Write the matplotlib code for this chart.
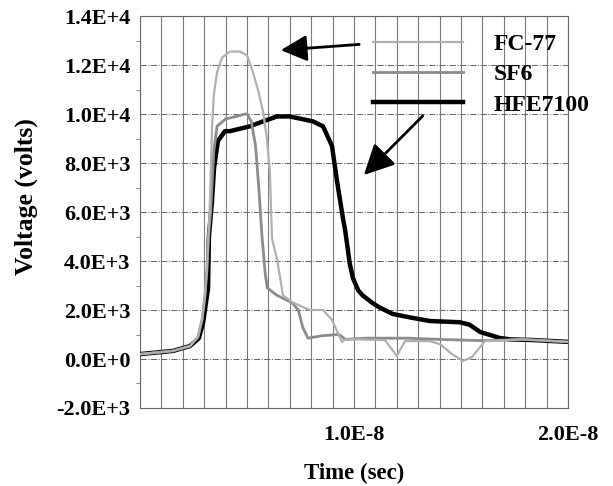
import numpy as np
import matplotlib
matplotlib.use("Agg")
import matplotlib.pyplot as plt
from matplotlib.ticker import MultipleLocator, FixedLocator, FixedFormatter

plt.rcParams['font.family'] = ['Liberation Serif', 'DejaVu Serif']
plt.rcParams['font.weight'] = 'bold'
plt.rcParams['axes.labelweight'] = 'bold'

# time in ns, voltage in volts
fc77_t = [0, 1.54, 2.34, 2.71, 2.9, 3.04, 3.13, 3.2, 3.27, 3.32, 3.37, 3.45, 3.6, 3.83,
          4.2, 4.67, 5.0, 5.28, 5.51, 5.75, 5.93, 6.07, 6.17, 6.4, 6.68, 7.15, 7.94,
          8.55, 8.97, 9.2, 9.44, 9.58, 10.28, 11.45, 12.0, 12.38, 13.55, 14.02, 14.58,
          15.09, 15.51, 16.12, 17.76, 20.0]
fc77_v = [200, 330, 530, 900, 1600, 2600, 3700, 5000, 6500, 8000, 9500, 10800, 11700, 12300,
          12550, 12550, 12400, 11700, 11000, 10100, 9000, 7600, 4900, 4100, 2600, 2300, 2000,
          2000, 1600, 1150, 700, 800, 800, 770, 120, 730, 730, 600, 200,
          -80, 80, 730, 800, 700]

sf6_t = [0, 1.54, 2.34, 2.71, 2.9, 3.04, 3.13, 3.2, 3.3, 3.45, 3.6, 4.0, 4.5, 4.9, 5.0,
         5.2, 5.4, 5.55, 5.7, 5.85, 5.95, 6.4, 7.1, 7.4, 7.6, 7.85, 8.5, 9.3, 9.6, 10.5,
         12.5, 14.0, 16.0, 18.0, 20.0]
sf6_v = [200, 330, 530, 900, 1600, 2600, 3700, 5000, 6000, 8500, 9500, 9800, 9900, 10000, 10000,
         9700, 8700, 7000, 5000, 3500, 2900, 2600, 2300, 2000, 1300, 850, 950, 1000, 800, 850,
         850, 800, 750, 800, 700]

hfe_t = [0, 1.54, 2.34, 2.75, 2.95, 3.1, 3.18, 3.22, 3.36, 3.46, 3.64, 3.97, 4.2, 5.14, 5.75,
         6.4, 7.0, 8.08, 8.55, 8.97, 9.2, 9.49, 9.58, 9.8, 9.95, 10.2, 10.4, 10.84, 11.2,
         11.8, 12.6, 13.55, 14.95, 15.4, 15.9, 16.36, 16.8, 17.3, 18.2, 20.0]
hfe_v = [200, 330, 530, 850, 1500, 2400, 2900, 5000, 6400, 7800, 8900, 9300, 9300, 9500, 9700,
         9900, 9900, 9700, 9500, 8700, 7300, 5700, 5300, 3900, 3300, 2800, 2600, 2300, 2100,
         1840, 1700, 1550, 1500, 1400, 1100, 980, 860, 800, 780, 700]

names = ['FC-77', 'SF6', 'HFE7100']
colors = ['#b0b0b0', '#8c8c8c', '#000000']
widths = [1.6, 2.0, 3.2]
zorders = [5, 4, 3]

fig = plt.figure(figsize=(6.13, 4.86), dpi=100)
ax = fig.add_axes([0.2284, 0.1605, 0.6982, 0.8065])

ns = 1e-9
series = [(fc77_t, fc77_v), (sf6_t, sf6_v), (hfe_t, hfe_v)]
lines = []
for (t, v), name, c, w, z in zip(series, names, colors, widths, zorders):
    ln, = ax.plot(np.array(t) * ns, v, color=c, lw=w, label=name, zorder=z)
    lines.append(ln)

ax.set_xlim(0, 20 * ns)
ax.set_ylim(-2000, 14000)

ax.xaxis.set_major_locator(FixedLocator([1e-8, 2e-8]))
ax.xaxis.set_major_formatter(FixedFormatter(['1.0E-8', '2.0E-8']))
ax.xaxis.set_minor_locator(MultipleLocator(1 * ns))
ax.yaxis.set_major_locator(MultipleLocator(2000))
ax.yaxis.set_minor_locator(MultipleLocator(1000))
ax.yaxis.set_major_formatter(plt.FuncFormatter(
    lambda v, p: '%.1fE+%d' % (v / 10 ** int(np.floor(np.log10(abs(v)))), int(np.floor(np.log10(abs(v)))))
    if v != 0 else '0.0E+0'))

ax.grid(True, axis='x', which='both', color='#7a7a7a', lw=0.8, ls='-')
ax.grid(True, axis='y', which='major', color='#666666', lw=0.7, ls='-.')
ax.tick_params(axis='x', which='both', length=0, labelsize=16, pad=12)
ax.tick_params(axis='y', which='major', length=0, labelsize=16, pad=7)
ax.tick_params(axis='y', which='minor', length=3, direction='out', color='#777777')
for s in ax.spines.values():
    s.set_color('#666666')
    s.set_linewidth(0.8)

ax.set_xlabel('Time (sec)', fontsize=16.5, labelpad=13)
ax.set_ylabel('Voltage (volts)', fontsize=18.5)
ax.yaxis.set_label_coords(-0.238, 0.54)

leg = ax.legend(handles=lines, loc='upper left', bbox_to_anchor=(0.545, 0.955),
                frameon=False, fontsize=17, handlelength=3.8, handletextpad=1.3,
                labelspacing=0.37, borderpad=0, borderaxespad=0)

ax.annotate('', xy=(6.45 * ns, 12600), xytext=(10.37 * ns, 12850),
            arrowprops=dict(arrowstyle='-|>', lw=2, color='black', mutation_scale=40), zorder=6)
ax.annotate('', xy=(10.37 * ns, 7430), xytext=(13.3 * ns, 10000),
            arrowprops=dict(arrowstyle='-|>', lw=2, color='black', mutation_scale=46), zorder=6)

fig.savefig('out.png', dpi=100)
